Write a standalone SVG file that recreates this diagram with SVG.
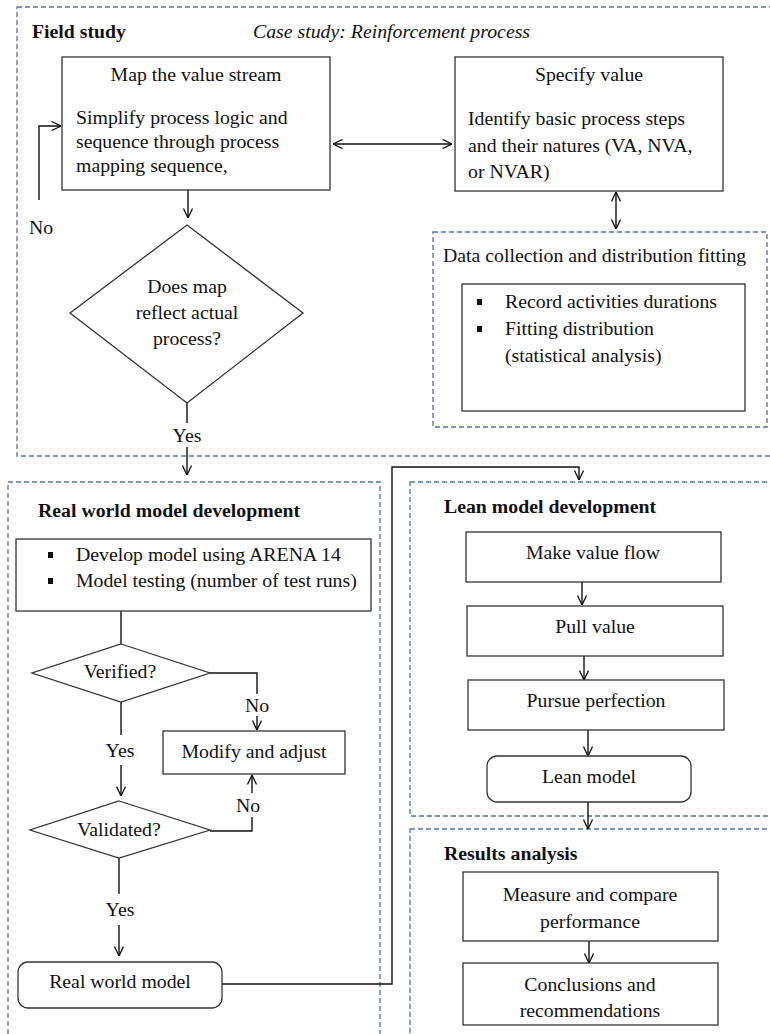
<svg xmlns="http://www.w3.org/2000/svg" width="770" height="1034" viewBox="0 0 770 1034">
<style>
text{font-family:"Liberation Serif","Times New Roman",serif;font-size:19.8px;fill:#111}
.b{font-weight:bold}
.i{font-style:italic}
.m{text-anchor:middle}
.box{fill:#fff;stroke:#333;stroke-width:1.3}
.dash{fill:none;stroke:#4f74a8;stroke-width:1.3;stroke-dasharray:5 3}
.c{fill:none;stroke:#111;stroke-width:1.4}
.a{marker-end:url(#arr)}
.d{marker-start:url(#arr);marker-end:url(#arr)}
</style>
<defs>
<marker id="arr" viewBox="0 0 10 10" refX="10" refY="5" markerWidth="10" markerHeight="10" markerUnits="userSpaceOnUse" orient="auto-start-reverse">
<path d="M0.5,0.5 L10,5 L0.5,9.5" fill="none" stroke="#111" stroke-width="1.3"/>
</marker>
<rect id="bul" width="5" height="6" fill="#111"/>
</defs>
<rect width="770" height="1034" fill="#fff"/>

<g id="field-study">
<rect class="dash" x="17" y="7" width="800" height="449"/>
<text class="b" x="32" y="38">Field study</text>
<text class="i" x="253" y="38">Case study: Reinforcement process</text>
</g>
<g id="real-world-section">
<rect class="dash" x="8" y="482" width="372" height="600"/>
<text class="b" x="38" y="517">Real world model development</text>
</g>
<g id="lean-section">
<rect class="dash" x="410" y="482" width="400" height="334"/>
<text class="b" x="444" y="513">Lean model development</text>
</g>
<g id="results-section">
<rect class="dash" x="410" y="829" width="400" height="250"/>
<text class="b" x="444" y="860">Results analysis</text>
</g>

<g id="connectors">
<path class="c a" d="M188,190 V218"/>
<path class="c a" d="M39,200 V126 H61"/>
<path class="c d" d="M333,144 H452"/>
<path class="c d" d="M616,192 V229"/>
<path class="c" d="M187,403 V423"/>
<path class="c a" d="M187,447 V475"/>
<path class="c" d="M121,611 V644"/>
<path class="c" d="M210,673 H257 V694"/>
<path class="c a" d="M257,716 V730"/>
<path class="c" d="M121,702 V735"/>
<path class="c a" d="M121,765 V796"/>
<path class="c" d="M210,831 H252 V817"/>
<path class="c a" d="M252,793 V775"/>
<path class="c" d="M119,858 V894"/>
<path class="c a" d="M119,925 V956"/>
<path class="c a" d="M222,984 H392 V467 H579 V480"/>
<path class="c a" d="M582,582 V605"/>
<path class="c a" d="M584,656 V680"/>
<path class="c a" d="M588,730 V756"/>
<path class="c a" d="M588,802 V829"/>
<path class="c a" d="M589,941 V963"/>
<text x="29" y="234">No</text>
<text class="m" x="187" y="442">Yes</text>
<text class="m" x="257" y="712">No</text>
<text class="m" x="120" y="757">Yes</text>
<text class="m" x="248" y="812">No</text>
<text class="m" x="120" y="916">Yes</text>
</g>

<g id="map-value-stream">
<rect class="box" x="62" y="57" width="268" height="133"/>
<text class="m" x="196" y="81">Map the value stream</text>
<text x="76" y="124">Simplify process logic and</text>
<text x="76" y="148">sequence through process</text>
<text x="76" y="172">mapping sequence,</text>
</g>
<g id="specify-value">
<rect class="box" x="455" y="57" width="268" height="134"/>
<text class="m" x="589" y="81">Specify value</text>
<text x="468" y="125">Identify basic process steps</text>
<text x="468" y="152">and their natures (VA, NVA,</text>
<text x="468" y="178">or NVAR)</text>
</g>
<g id="map-decision">
<polygon class="box" points="187,225 303,313 187,403 70,313"/>
<text class="m" x="187" y="293">Does map</text>
<text class="m" x="187" y="319">reflect actual</text>
<text class="m" x="187" y="345">process?</text>
</g>
<g id="data-collection">
<rect class="dash" x="433" y="232" width="334" height="195"/>
<text x="443" y="262">Data collection and distribution fitting</text>
<rect class="box" x="462" y="284" width="283" height="127"/>
<use href="#bul" x="477" y="299"/>
<use href="#bul" x="477" y="326"/>
<text x="505" y="308">Record activities durations</text>
<text x="505" y="335">Fitting distribution</text>
<text x="505" y="362">(statistical analysis)</text>
</g>
<g id="develop-model">
<rect class="box" x="16" y="539" width="355" height="72"/>
<use href="#bul" x="48" y="552"/>
<use href="#bul" x="48" y="578"/>
<text x="76" y="561">Develop model using ARENA 14</text>
<text x="76" y="587">Model testing (number of test runs)</text>
</g>
<g id="verified">
<polygon class="box" points="121,644 210,673 121,702 32,673"/>
<text class="m" x="120" y="678">Verified?</text>
</g>
<g id="modify-adjust">
<rect class="box" x="163" y="731" width="182" height="43"/>
<text class="m" x="254" y="758">Modify and adjust</text>
</g>
<g id="validated">
<polygon class="box" points="119,801 210,830 119,858 30,830"/>
<text class="m" x="119" y="836">Validated?</text>
</g>
<g id="real-world-model">
<rect class="box" x="18" y="962" width="204" height="46" rx="10"/>
<text class="m" x="120" y="988">Real world model</text>
</g>
<g id="make-value-flow">
<rect class="box" x="466" y="532" width="255" height="50"/>
<text class="m" x="593" y="559">Make value flow</text>
</g>
<g id="pull-value">
<rect class="box" x="467" y="606" width="256" height="50"/>
<text class="m" x="595" y="633">Pull value</text>
</g>
<g id="pursue-perfection">
<rect class="box" x="468" y="680" width="256" height="50"/>
<text class="m" x="596" y="707">Pursue perfection</text>
</g>
<g id="lean-model">
<rect class="box" x="487" y="756" width="204" height="46" rx="10"/>
<text class="m" x="589" y="783">Lean model</text>
</g>
<g id="measure-compare">
<rect class="box" x="463" y="872" width="255" height="69"/>
<text class="m" x="590" y="901">Measure and compare</text>
<text class="m" x="590" y="928">performance</text>
</g>
<g id="conclusions">
<rect class="box" x="463" y="963" width="255" height="62"/>
<text class="m" x="590" y="991">Conclusions and</text>
<text class="m" x="590" y="1017">recommendations</text>
</g>
</svg>
